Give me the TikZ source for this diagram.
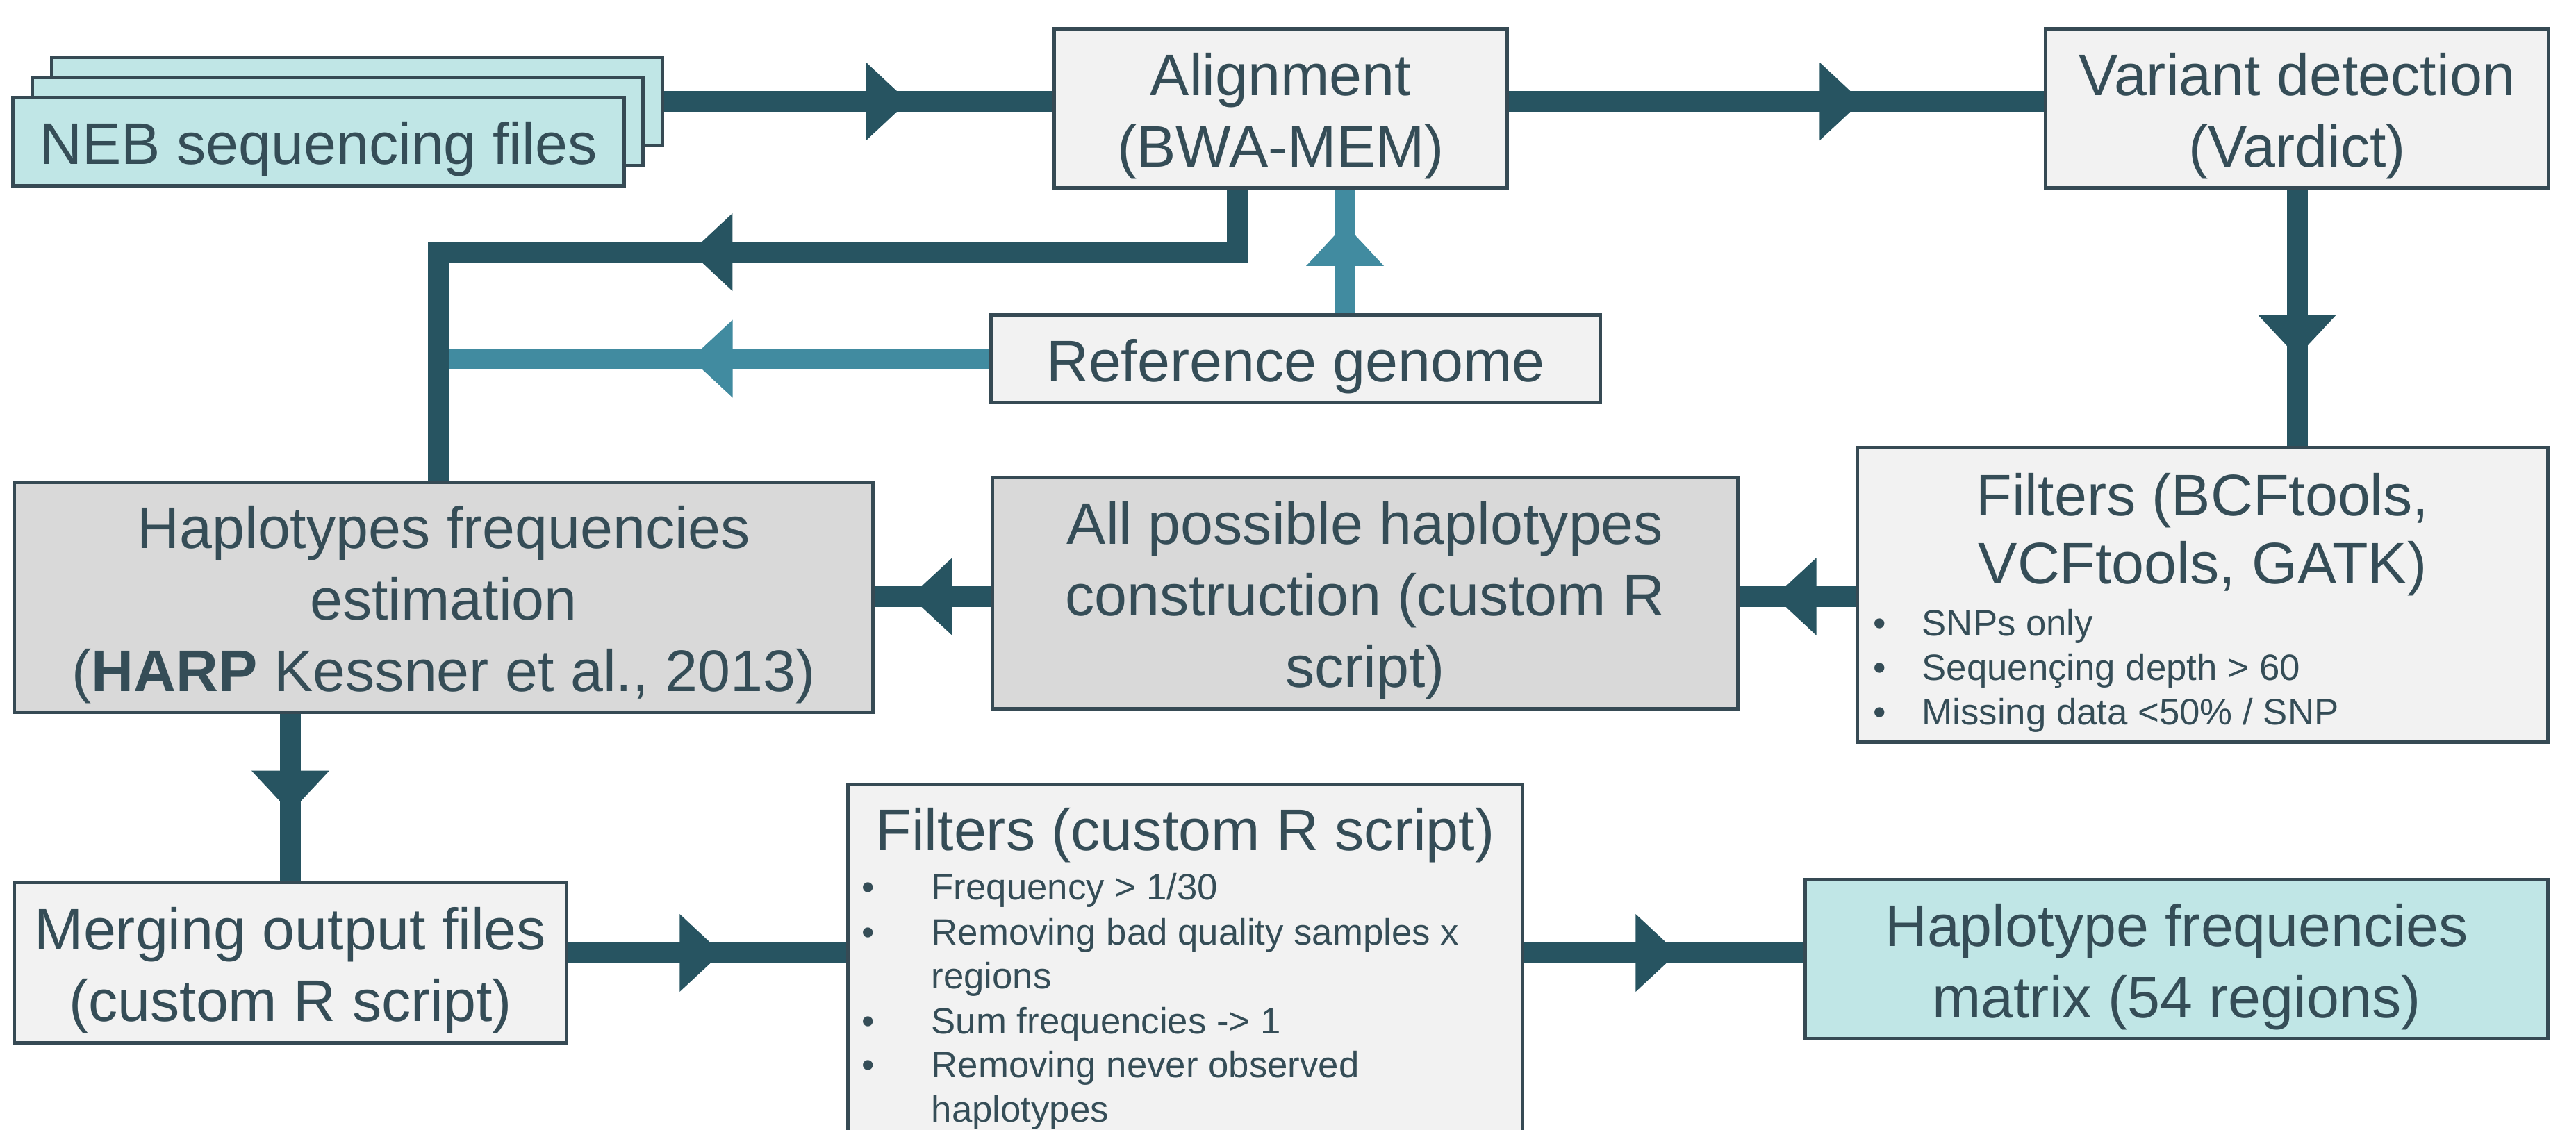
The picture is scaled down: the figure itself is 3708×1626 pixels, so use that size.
\documentclass[tikz,border=0pt]{standalone}
\usepackage{fontspec}
\setmainfont{Liberation Sans}
\usetikzlibrary{decorations.markings,backgrounds}
\definecolor{txt}{RGB}{53,77,87}
\definecolor{bord}{RGB}{54,74,84}
\definecolor{dkline}{RGB}{39,84,97}
\definecolor{ltline}{RGB}{65,139,160}
\definecolor{fillg}{RGB}{242,242,242}
\definecolor{filld}{RGB}{217,217,217}
\definecolor{fillt}{RGB}{192,230,230}
\newcommand\tstrut{\rule{0pt}{23.5pt}}
\begin{document}
\begin{tikzpicture}[x=0.01cm,y=-0.01cm,
  box/.style={draw=bord,line width=0.5mm,inner sep=0pt,outer sep=0pt,text=txt,align=center,font=\fontsize{24}{29.3}\selectfont},
  ttl/.style={inner sep=0pt,text=txt,font=\fontsize{24}{29.3}\selectfont},
  bul/.style={inner sep=0pt,text=txt,anchor=base west,font=\fontsize{15}{18}\selectfont},
  dk/.style={draw=dkline,line width=3mm},
  lt/.style={draw=ltline,line width=3mm},
  arrowdk/.style={postaction={decorate,decoration={markings,mark=at position #1 with {\fill[dkline] (30,0)--(-30,56)--(-30,-56)--cycle;}}}},
  arrowlt/.style={postaction={decorate,decoration={markings,mark=at position #1 with {\fill[ltline] (30,0)--(-30,56)--(-30,-56)--cycle;}}}}
]
\useasboundingbox (0,0) rectangle (3708,1626);
\clip (0,0) rectangle (3708,1626);

% boxes
\node[box,fill=fillt,minimum width=87.9mm,minimum height=12.6mm] (neb3) at (514,146) {};
\node[box,fill=fillt,minimum width=87.9mm,minimum height=12.6mm] (neb2) at (486,175) {};
\node[box,fill=fillt,minimum width=87.9mm,minimum height=12.6mm] (neb1) at (458.5,204) {\tstrut NEB sequencing files};

\node[box,fill=fillg,minimum width=65.1mm,minimum height=22.8mm] (align) at (1843.5,156) {\tstrut Alignment\\(BWA-MEM)};
\node[box,fill=fillg,minimum width=72.3mm,minimum height=22.8mm] (var) at (3306.5,156) {\tstrut Variant detection\\(Vardict)};
\node[box,fill=fillg,minimum width=99.3mm,minimum height=42.3mm] (bcf) at (3170.5,856.5) {};
\node[box,fill=filld,minimum width=107.2mm,minimum height=33.2mm] (allp) at (1965,854) {\tstrut All possible haplotypes\\construction (custom R\\script)};
\node[box,fill=filld,minimum width=123.5mm,minimum height=33mm] (hfe) at (638.5,860) {\tstrut Haplotypes frequencies\\estimation\\(\textbf{HARP} Kessner et al., 2013)};
\node[box,fill=fillg,minimum width=87.6mm,minimum height=12.5mm] (rg) at (1865,516.5) {\tstrut Reference genome};
\node[box,fill=fillg,minimum width=79.4mm,minimum height=23mm] (merge) at (418,1386) {\tstrut Merging output files\\(custom R script)};
\node[box,fill=fillg,minimum width=97mm,minimum height=57mm] (fc) at (1706,1415) {};
\node[box,fill=fillt,minimum width=106.8mm,minimum height=22.8mm] (mat) at (3133,1381) {\tstrut Haplotype frequencies\\matrix (54 regions)};

% texts of the filter boxes
\node[ttl,anchor=base] (bcft1) at (3170.5,742) {Filters (BCFtools,};
\node[ttl,anchor=base] (bcft2) at (3170.5,840) {VCFtools, GATK)};
\node[bul] (bcfb1) at (2696,915) {\makebox[7mm][l]{•}SNPs only};
\node[bul] (bcfb2) at (2696,979) {\makebox[7mm][l]{•}Sequençing depth > 60};
\node[bul] (bcfb3) at (2696,1043) {\makebox[7mm][l]{•}Missing data <50\% / SNP};

\node[ttl,anchor=base] (fct) at (1706,1224) {Filters (custom R script)};
\node[bul] (fcb1) at (1240,1295) {\makebox[10mm][l]{•}Frequency > 1/30};
\node[bul] (fcb2) at (1240,1360) {\makebox[10mm][l]{•}Removing bad quality samples x};
\node[bul] (fcb2b) at (1340,1423) {regions};
\node[bul] (fcb3) at (1240,1488) {\makebox[10mm][l]{•}Sum frequencies -> 1};
\node[bul] (fcb4) at (1240,1551) {\makebox[10mm][l]{•}Removing never observed};
\node[bul] (fcb4b) at (1340,1615) {haplotypes};

% connectors
\coordinate (c1) at (631,363);
\coordinate (ltx) at ([xshift=9.25mm]align.south);
\coordinate (row2) at (0,859);
\coordinate (row3) at (0,1372);
\begin{pgfonlayer}{background}
\draw[lt,arrowlt=10.1mm] (ltx |- rg.north) -- (ltx);
\draw[lt,arrowlt=40.2mm] (rg.west) -- (rg.west -| c1);
\draw[dk,arrowdk=32.3mm] (neb3.east) -- (neb3.east -| align.west);
\draw[dk,arrowdk=48mm] (align.east |- neb3.east) -- (var.west |- neb3.east);
\draw[dk,arrowdk=21.35mm] (var.south) -- (var.south |- bcf.north);
\draw[dk,arrowdk=8.9mm] (bcf.west |- row2) -- (allp.east |- row2);
\draw[dk,arrowdk=8.8mm] (allp.west |- row2) -- (hfe.east |- row2);
\draw[dk,line join=miter,arrowdk=84.9mm] ([xshift=-6.25mm]align.south) |- (c1) -- (c1 |- hfe.north);
\draw[dk,arrowdk=11.45mm] (merge.north |- hfe.south) -- (merge.north);
\draw[dk,arrowdk=19.3mm] (merge.east |- row3) -- (fc.west |- row3);
\draw[dk,arrowdk=19.3mm] (fc.east |- row3) -- (mat.west |- row3);
\end{pgfonlayer}
\end{tikzpicture}
\end{document}
